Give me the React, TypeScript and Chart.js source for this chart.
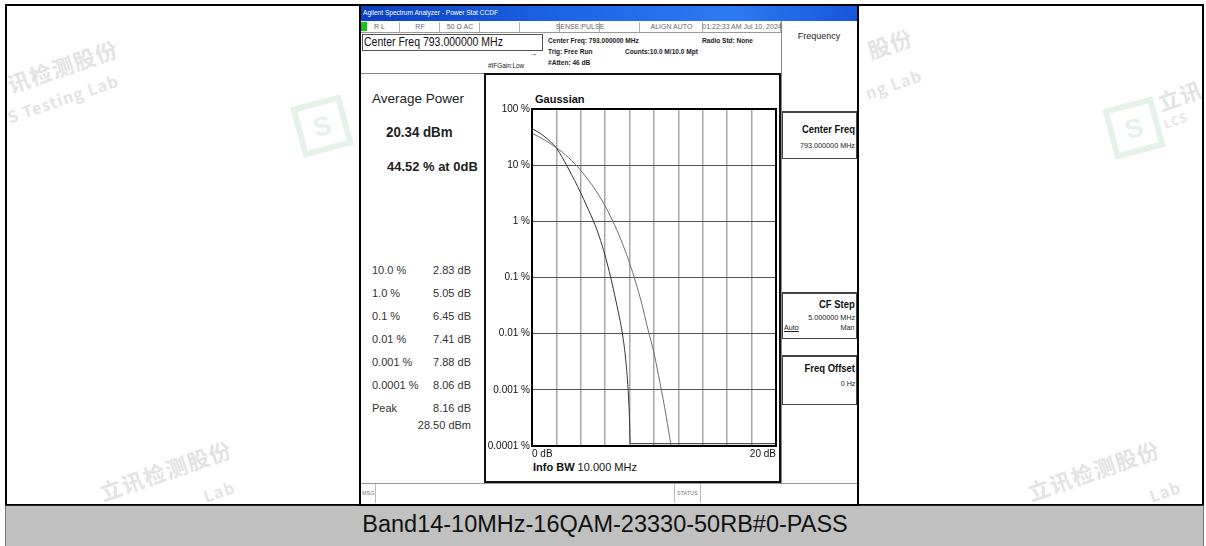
import React, { useEffect, useRef } from "react";
import { Chart, registerables } from "chart.js";

Chart.register(...registerables);

const FONT = '"Liberation Sans", Arial, Helvetica, sans-serif';

// Measured CCDF trace: dB above average power vs probability (%)
const measuredDb = [0, 0.5, 1.0, 1.5, 2.0, 2.5, 2.83, 3.25, 3.75, 4.25, 4.65, 5.05, 5.5, 6.0, 6.45, 6.9, 7.41, 7.65, 7.88, 7.98, 8.06, 20];
const measuredPct = [44.52, 38.9, 32.7, 26.3, 20.2, 13.5, 10, 6.78, 4.13, 2.44, 1.56, 1.0, 0.548, 0.242, 0.1, 0.0366, 0.01, 0.004, 0.001, 0.00036, 0.00011, 0.00011];

// Gaussian reference trace
const gaussDb = [0, 0.5, 1, 1.5, 2, 2.5, 3, 3.5, 4, 4.5, 5, 5.5, 6, 6.5, 7, 7.5, 8, 8.5, 9, 9.5, 10, 10.5, 11, 11.4];
const gaussPct = [36.8, 32.5, 28.3, 24.3, 20.5, 16.9, 13.6, 10.6, 8.1, 5.9, 4.2, 2.85, 1.87, 1.14, 0.67, 0.36, 0.18, 0.082, 0.034, 0.012, 0.0045, 0.0013, 0.00034, 0.0001];

const yTickValues = [100, 10, 1, 0.1, 0.01, 0.001, 0.0001];
const yTickLabels = ["100 %", "10 %", "1 %", "0.1 %", "0.01 %", "0.001 %", "0.0001 %"];
const xLabelValues = [0, 20];
const xLabelTexts = ["0 dB", "20 dB"];

const statLabels = ["10.0 %", "1.0 %", "0.1 %", "0.01 %", "0.001 %", "0.0001 %", "Peak"];
const statValues = ["2.83 dB", "5.05 dB", "6.45 dB", "7.41 dB", "7.88 dB", "8.06 dB", "8.16 dB"];

type TP = { x: number; y: number; s: number; t: string; b?: boolean; c?: string; sx?: number; a?: "l" | "r" | "c"; u?: boolean };
const T = ({ x, y, s, t, b, c, sx, a, u }: TP) => {
  const al = a || "l";
  const style: any = {
    position: "absolute",
    top: y - s * 0.54,
    fontSize: s,
    lineHeight: s * 1.1 + "px",
    fontWeight: b ? "bold" : "normal",
    color: c || "#111",
    whiteSpace: "nowrap",
    fontFamily: FONT,
    textDecoration: u ? "underline" : "none",
  };
  const scale = sx ? ` scaleX(${sx})` : "";
  if (al === "l") {
    style.left = x;
    style.transformOrigin = "left center";
    if (sx) style.transform = `scaleX(${sx})`;
  } else if (al === "r") {
    style.right = 1206 - x;
    style.transformOrigin = "right center";
    if (sx) style.transform = `scaleX(${sx})`;
  } else {
    style.left = x;
    style.transform = `translateX(-50%)${scale}`;
  }
  return <div style={style}>{t}</div>;
};

const box = (l: number, t: number, w: number, h: number, extra: any = {}) => (
  <div style={{ position: "absolute", left: l, top: t, width: w, height: h, boxSizing: "border-box", ...extra }} />
);

// faint watermark fragment; (x, cy) = left-centre of the text line
const WM = ({ x, cy, t, s, b }: { x: number; cy: number; t: string; s: number; b?: boolean }) => (
  <div
    style={{
      position: "absolute",
      left: x,
      top: cy - s * 0.6,
      fontSize: s,
      lineHeight: s * 1.2 + "px",
      fontWeight: b ? "bold" : "normal",
      color: "#e3e3e3",
      whiteSpace: "nowrap",
      transform: "rotate(-19deg)",
      transformOrigin: "left center",
      fontFamily: '"Noto Sans CJK SC", "Liberation Sans", sans-serif',
      letterSpacing: 1,
    }}
  >
    {t}
  </div>
);

const Logo = ({ x, y }: { x: number; y: number }) => (
  <div
    style={{
      position: "absolute",
      left: x,
      top: y,
      width: 40,
      height: 40,
      border: "6px solid #e4f2e9",
      transform: "rotate(-15deg)",
      color: "#e4f2e9",
      fontSize: 26,
      fontWeight: "bold",
      textAlign: "center",
      lineHeight: "40px",
      fontFamily: FONT,
    }}
  >
    S
  </div>
);

export default function App() {
  const ref = useRef<HTMLCanvasElement>(null);

  useEffect(() => {
    const canvas = ref.current;
    if (!canvas) return;
    const framePlugin = {
      id: "frame",
      afterDraw(chart: any) {
        const { ctx, chartArea: a } = chart;
        ctx.save();
        ctx.strokeStyle = "#000";
        ctx.lineWidth = 2;
        ctx.strokeRect(a.left, a.top, a.right - a.left, a.bottom - a.top);
        ctx.restore();
      },
    };
    const chart = new Chart(canvas, {
      type: "line",
      data: {
        datasets: [
          {
            label: "Gaussian",
            data: gaussDb.map((x, i) => ({ x, y: gaussPct[i] })),
            borderColor: "#6e6e6e",
            borderWidth: 1,
            pointRadius: 0,
            fill: false,
            cubicInterpolationMode: "monotone",
          },
          {
            label: "Measured",
            data: measuredDb.map((x, i) => ({ x, y: measuredPct[i] })),
            borderColor: "#333",
            borderWidth: 1,
            pointRadius: 0,
            fill: false,
            cubicInterpolationMode: "monotone",
          },
        ],
      },
      options: {
        animation: false,
        responsive: false,
        maintainAspectRatio: false,
        layout: { padding: { top: 34, right: 3, left: 0, bottom: 0 } },
        plugins: { legend: { display: false }, tooltip: { enabled: false }, title: { display: false } },
        scales: {
          x: {
            type: "linear",
            min: 0,
            max: 20,
            ticks: {
              stepSize: 2,
              align: "inner",
              autoSkip: false,
              maxRotation: 0,
              padding: 2,
              color: "#111",
              font: { family: FONT, size: 10 },
              callback: (v: any) => {
                const i = xLabelValues.indexOf(Number(v));
                return i >= 0 ? xLabelTexts[i] : "";
              },
            },
            grid: { color: "#a8a8a8", lineWidth: 1.5, drawTicks: false },
            border: { display: false },
            afterFit: (s: any) => {
              s.height = 35;
            },
          },
          y: {
            type: "logarithmic",
            min: 0.0001,
            max: 100,
            afterBuildTicks: (s: any) => {
              s.ticks = yTickValues.map((v) => ({ value: v }));
            },
            ticks: {
              padding: 2,
              color: "#111",
              font: { family: FONT, size: 10 },
              callback: (v: any) => {
                const i = yTickValues.findIndex((t) => Math.abs(Math.log10(t) - Math.log10(Number(v))) < 1e-6);
                return i >= 0 ? yTickLabels[i] : "";
              },
            },
            grid: { color: "#555", lineWidth: 1, drawTicks: false },
            border: { display: false },
            afterFit: (s: any) => {
              s.width = 46;
            },
          },
        },
      } as any,
      plugins: [framePlugin],
    } as any);
    return () => chart.destroy();
  }, []);

  const statusCells: [number, number, string][] = [
    [368, 400, ""],
    [400, 440, "RF"],
    [440, 480, "50 Ω    AC"],
    [480, 520, ""],
    [520, 560, ""],
    [560, 600, "SENSE:PULSE"],
    [600, 640, ""],
    [640, 703, "ALIGN AUTO"],
    [703, 781, "01:22:33 AM Jul 10, 2024"],
  ];

  return (
    <div
      style={{
        position: "fixed",
        left: 0,
        top: 0,
        width: 1206,
        height: 546,
        background: "#fff",
        overflow: "hidden",
        fontFamily: FONT,
      }}
    >
      {/* watermarks (visible fragments only) */}
      <WM x={8} cy={84} t="讯检测股份" s={22} b />
      <WM x={8} cy={118} t="S Testing Lab" s={16} b />
      <WM x={868} cy={50} t="股份" s={22} b />
      <WM x={866} cy={94} t="ng Lab" s={16} b />
      <WM x={1158} cy={102} t="立讯" s={22} b />
      <WM x={1164} cy={124} t="LCS" s={12} b />
      <WM x={100} cy={492} t="立讯检测股份" s={22} b />
      <WM x={204} cy={497} t="Lab" s={16} b />
      <WM x={1028} cy={492} t="立讯检测股份" s={22} b />
      <WM x={1150} cy={497} t="Lab" s={16} b />
      <Logo x={296} y={100} />
      <Logo x={1108} y={102} />

      {/* outer frame */}
      {box(5, 4, 1199, 502, { border: "2px solid #000" })}
      {/* bottom band */}
      {box(5, 505, 1199, 41, { background: "#c0c0c0", borderLeft: "1px solid #777", borderRight: "1px solid #777", borderTop: "1px solid #222" })}
      <T x={605} y={525} s={23.5} t="Band14-10MHz-16QAM-23330-50RB#0-PASS" a="c" c="#111" />

      {/* analyzer screenshot */}
      {box(359, 4, 500, 502, { background: "#fff", border: "2px solid #000" })}
      {box(361, 6, 496, 15, { background: "linear-gradient(to right, #0b3fc0 0%, #1c63e6 40%, #2d7bf2 75%, #1656dc 100%)" })}
      <T x={363} y={13.5} s={8} t="Agilent Spectrum Analyzer - Power Stat CCDF" c="#fff" sx={0.82} />

      {/* status row */}
      {box(361, 21, 420, 12, { background: "#fff", borderBottom: "1px solid #999" })}
      {box(361, 22, 6, 9, { background: "#19c219" })}
      <T x={374} y={27} s={7} t="R L" c="#666" />
      {statusCells.map(([l, r, t], i) => (
        <React.Fragment key={"sc" + i}>
          {box(l, 22, r - l, 10, { borderRight: "1px solid #b0b0b0" })}
          {t ? <T x={(l + r) / 2} y={27} s={7} t={t} c="#666" a="c" /> : null}
        </React.Fragment>
      ))}

      {/* header */}
      {box(362, 34, 181, 17, { border: "1px solid #555", background: "#fff" })}
      <T x={364} y={42.5} s={12.5} t="Center Freq 793.000000 MHz" sx={0.84} c="#111" />
      <T x={548} y={41.5} s={8} b t="Center Freq: 793.000000 MHz" sx={0.82} c="#222" />
      <T x={702} y={41.5} s={8} b t="Radio Std: None" sx={0.82} c="#222" />
      <T x={548} y={52} s={8} b t="Trig: Free Run" sx={0.82} c="#222" />
      <T x={625} y={52} s={8} b t="Counts:10.0 M/10.0 Mpt" sx={0.82} c="#222" />
      <T x={548} y={63} s={8} b t="#Atten: 46 dB" sx={0.82} c="#222" />
      <T x={488} y={66.5} s={7.5} t="#IFGain:Low" sx={0.85} c="#222" />
      <T x={529} y={54} s={8} t="→" c="#222" />

      {/* left panel */}
      {box(361, 73, 124, 411, { borderTop: "1px solid #888", background: "#fff" })}
      <T x={372} y={99} s={13.5} t="Average Power" c="#222" />
      <T x={386} y={133} s={14} b t="20.34 dBm" c="#222" sx={0.95} />
      <T x={387} y={167} s={13.5} b t="44.52 % at 0dB" c="#222" sx={0.96} />
      {statLabels.map((l, i) => (
        <React.Fragment key={"st" + i}>
          <T x={372} y={270 + i * 23} s={11} t={l} c="#333" />
          <T x={471} y={270 + i * 23} s={11} t={statValues[i]} c="#333" a="r" />
        </React.Fragment>
      ))}
      <T x={471} y={425} s={11} t="28.50 dBm" c="#333" a="r" />

      {/* plot panel */}
      {box(484, 73, 297, 410, { border: "2px solid #111", background: "#fff" })}
      <T x={535} y={99} s={11} b t="Gaussian" c="#111" />
      <div style={{ position: "absolute", left: 533, top: 461, fontSize: 11, lineHeight: "12px", whiteSpace: "nowrap", color: "#111", fontFamily: FONT }}>
        <b>Info BW</b> 10.000 MHz
      </div>
      <canvas ref={ref} width={293} height={406} style={{ position: "absolute", left: 486, top: 75, width: 293, height: 406 }} />

      {/* softkey panel */}
      {box(781, 21, 76, 463, { background: "#fff", borderLeft: "1px solid #888" })}
      <T x={819} y={37} s={9} t="Frequency" a="c" c="#222" />
      {box(782, 111, 75, 48, { border: "1px solid #444", borderTopWidth: 2 })}
      <T x={855} y={130} s={10.5} b t="Center Freq" a="r" sx={0.9} c="#111" />
      <T x={855} y={146} s={8} t="793.000000 MHz" a="r" sx={0.9} c="#222" />
      {box(782, 292, 75, 47, { border: "1px solid #444", borderTopWidth: 2 })}
      <T x={855} y={305} s={10.5} b t="CF Step" a="r" sx={0.9} c="#111" />
      <T x={855} y={318} s={8} t="5.000000 MHz" a="r" sx={0.9} c="#222" />
      <T x={784} y={328} s={8} t="Auto" u c="#222" sx={0.9} />
      <T x={855} y={328} s={8} t="Man" a="r" c="#222" sx={0.9} />
      {box(782, 355, 75, 50, { border: "1px solid #444", borderTopWidth: 2 })}
      <T x={855} y={369} s={10.5} b t="Freq Offset" a="r" sx={0.9} c="#111" />
      <T x={855} y={384} s={8} t="0 Hz" a="r" sx={0.9} c="#222" />

      {/* message bar */}
      {box(361, 483, 496, 21, { background: "#fff", borderTop: "1px solid #999" })}
      {box(375, 484, 1, 19, { background: "#bbb" })}
      <T x={362} y={493} s={5.5} t="MSG" c="#777" />
      {box(674, 484, 1, 19, { background: "#bbb" })}
      {box(700, 484, 1, 19, { background: "#bbb" })}
      <T x={677} y={493} s={5.5} t="STATUS" c="#777" />
    </div>
  );
}
